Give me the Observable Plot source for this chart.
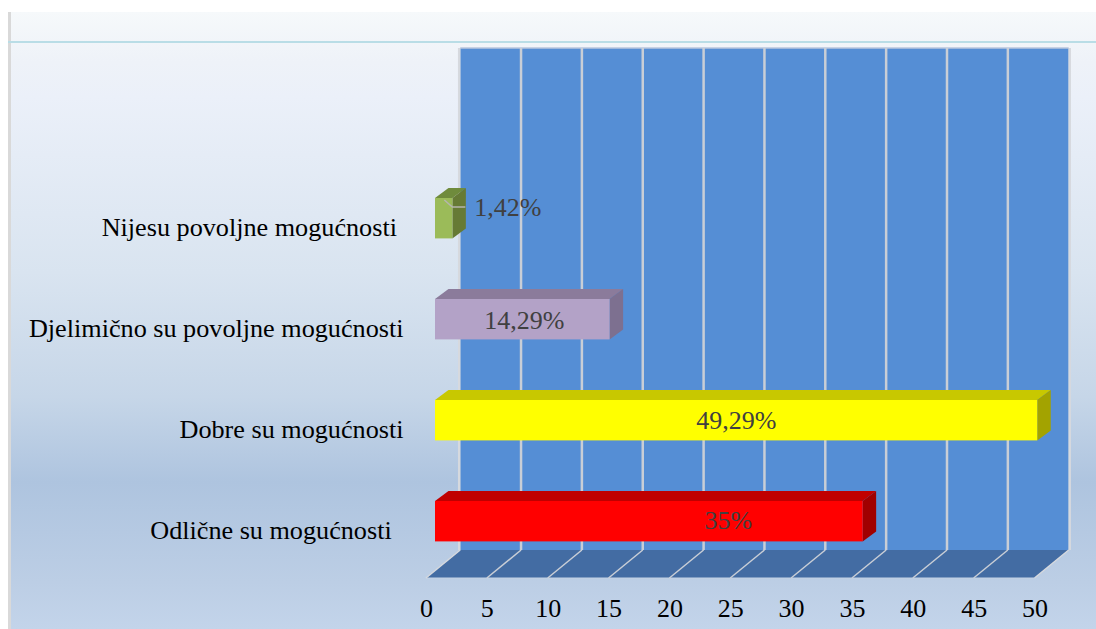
<!DOCTYPE html>
<html>
<head>
<meta charset="utf-8">
<script src="https://cdn.jsdelivr.net/npm/d3@7"></script>
<script src="https://cdn.jsdelivr.net/npm/@observablehq/plot@0.6"></script>
<style>
html,body{margin:0;padding:0;background:#fff;width:1096px;height:629px;overflow:hidden}
#panel{position:absolute;left:8px;top:12px;width:1085px;height:617px;border-left:3px solid #d9d9d9;
background:linear-gradient(180deg,#f6f9fb 0,#f1f5f9 30px,#eef2f8 50px,#ebf0f9 85px,#d9e4f0 260px,#c6d6e8 385px,#aec4df 470px,#bccee5 570px,#c3d4ea 617px)}
#rule{position:absolute;left:8px;top:41px;width:1088px;height:2px;background:#b9dde6}
#chart{position:absolute;left:0;top:0}
</style>
</head>
<body>
<div id="panel"></div>
<div id="rule"></div>
<div id="chart"></div>
<script>
// Data
const categories = ["Nijesu povoljne mogućnosti", "Djelimično su povoljne mogućnosti", "Dobre su mogućnosti", "Odlične su mogućnosti"];
const values = [1.42, 14.29, 49.29, 35];
const valueLabels = ["1,42%", "14,29%", "49,29%", "35%"];
const axisTicks = [0, 5, 10, 15, 20, 25, 30, 35, 40, 45, 50];

// Styles
const frontColors = ["#9bbb59", "#b3a2c7", "#ffff00", "#ff0000"];
const topColors = ["#6f8b3c", "#8b7b9b", "#c8c800", "#c00000"];
const sideColors = ["#667a35", "#7d7090", "#a3a300", "#a00000"];
const categoryText = ["Nijesu povoljne mogućnosti\u00a0", "Djelimično su povoljne mogućnosti", "Dobre su mogućnosti", "Odlične su mogućnosti\u00a0\u2009"];
const labelDx = [64, -76, -290, -124];
const labelDy = [-11, 1, 0, -1];

// Layout of the 3-D box, in pixels
const wallTop = 48, wallBottom = 550, floorFront = 578;
const wallDx = 34.2;          // floor front to back wall
const barDx = 9;              // floor front to bar front plane
const barDepthX = 13.5, barDepthY = 10;
const nearPlane = 1.004;      // bars sit on a nearer, slightly larger plane
const font = "'Liberation Serif','Times New Roman',serif";

const rows = categories.map((category, i) => ({
  category, value: values[i], label: valueLabels[i], i,
  front: frontColors[i], top: topColors[i], side: sideColors[i]
}));

const poly = (g, pts, fill) => g.append("polygon").attr("points", pts.map(p => p.join(",")).join(" ")).attr("fill", fill);

function box(index, {x}) {
  const g = d3.create("svg:g");
  const x0 = x(0), x1 = x(50);
  // back wall
  poly(g, [[x0 + wallDx, wallTop], [x1 + wallDx, wallTop], [x1 + wallDx, wallBottom], [x0 + wallDx, wallBottom]], "#558ed5");
  // floor
  poly(g, [[x0 + wallDx, wallBottom], [x1 + wallDx, wallBottom], [x1, floorFront], [x0, floorFront]], "#436ca3");
  g.append("line").attr("x1", x0).attr("x2", x1).attr("y1", floorFront).attr("y2", floorFront).attr("stroke", "#c4d2e4").attr("stroke-width", 1);
  g.append("line").attr("x1", x0 + wallDx).attr("x2", x1 + wallDx).attr("y1", wallTop).attr("y2", wallTop).attr("stroke", "#b9c6dc").attr("stroke-width", 1.5);
  for (const t of axisTicks) {
    const px = x(t);
    const grid = t === 0 || t === 50 ? "#d6d9de" : "#c9ced6";
    g.append("line").attr("x1", px + wallDx + (t === 50 ? 1 : t === 0 ? -1 : 0)).attr("x2", px + wallDx + (t === 50 ? 1 : t === 0 ? -1 : 0))
      .attr("y1", wallTop).attr("y2", wallBottom).attr("stroke", grid).attr("stroke-width", 2.5);
    g.append("line").attr("x1", px).attr("x2", px + wallDx).attr("y1", floorFront).attr("y2", wallBottom)
      .attr("stroke", grid).attr("stroke-width", 1.5);
  }
  return g.node();
}

function barFaces(index, {x, y}) {
  const g = d3.create("svg:g");
  const h = y.bandwidth();
  for (const d of rows) {
    const l = x(0) + barDx, r = x(d.value * nearPlane) + barDx, t = y(d.category), b = t + h;
    poly(g, [[l, t], [l + barDepthX, t - barDepthY], [r + barDepthX, t - barDepthY], [r, t]], d.top);
    poly(g, [[r, t], [r + barDepthX, t - barDepthY], [r + barDepthX, b - barDepthY], [r, b]], d.side);
  }
  return g.node();
}

function leader(index, {x, y}) {
  const d = rows[0];
  const r = x(d.value * nearPlane) + barDx, t = y(d.category);
  return d3.create("svg:polyline")
    .attr("points", [[r - 8, t + 2], [r, t + 9], [r + 13, t + 9]].map(p => p.join(",")).join(" "))
    .attr("fill", "none").attr("stroke", "#b5b5ad").attr("stroke-width", 1.5).node();
}

const plot = Plot.plot({
  width: 1096, height: 629,
  marginLeft: 403, marginRight: 0, marginTop: 0, marginBottom: 51,
  style: {background: "transparent", fontFamily: font},
  x: {domain: [0, 50], range: [426, 1034.5]},
  y: {type: "band", domain: categories, range: [137.4, 602], padding: 0.6, round: false},
  marks: [
    box,
    Plot.axisX({ticks: axisTicks, tickSize: 0, tickPadding: 20, fontSize: 26, fill: "#000", fontFamily: font, label: null}),
    Plot.axisY({tickSize: 0, tickPadding: 0, fontSize: 26.2, fill: "#000", fontFamily: font, label: null, dy: 9,
      tickFormat: c => categoryText[categories.indexOf(c)], textOverflow: null}),
    barFaces,
    Plot.barX(rows, {x: d => d.value * nearPlane, y: "category", fill: "front", dx: barDx}),
    leader,
    ...rows.map(d => Plot.text([d], {x: "value", y: "category", text: "label", fontSize: 26, fill: "#404040",
      fontFamily: font, dx: labelDx[d.i], dy: labelDy[d.i]}))
  ]
});
document.getElementById("chart").append(plot);
</script>
</body>
</html>
